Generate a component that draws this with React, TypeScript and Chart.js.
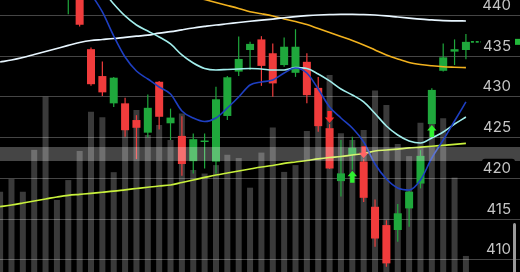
import React, { useEffect, useRef } from "react";
import { Chart, registerables } from "chart.js";

Chart.register(...registerables);

// Daily candles, oldest first. Sessions 0-5 traded above the visible price window.
const opens: (number | null)[] = [
  null, null, null, null, null, null,
  442.6, 443.8, 435.8, 432.5, 429.15, 429.15, 427.1, 425.55, 431.8, 426.7,
  425.15, 422.05, 424.4, 422.0, 427.6, 433.05, 435.7, 437.0, 435.3, 433.85,
  432.9, 434.25, 431.05, 426.1, 419.6, 422.8, 422.0, 416.45, 414.2, 413.6,
  416.25, 419.3, 426.6, 433.15, 435.5, 435.7,
];
const highs: (number | null)[] = [
  null, null, null, null, null, null,
  444.0, 444.3, 436.0, 434.3, 432.4, 429.85, 427.7, 430.25, 431.9, 428.5,
  427.55, 425.45, 425.45, 431.2, 432.5, 437.35, 436.7, 437.4, 436.5, 437.25,
  438.25, 435.3, 432.4, 426.6, 424.65, 425.05, 422.3, 417.35, 414.8, 416.8,
  418.4, 423.4, 431.0, 436.5, 437.0, 437.65,
];
const lows: (number | null)[] = [
  null, null, null, null, null, null,
  440.1, 438.6, 431.3, 430.05, 428.7, 425.05, 422.3, 424.95, 425.95, 424.65,
  420.25, 420.55, 421.15, 420.55, 427.1, 432.5, 433.25, 431.3, 429.95, 433.65,
  432.4, 429.15, 425.65, 421.1, 417.7, 421.0, 417.05, 411.55, 409.1, 412.15,
  414.0, 418.7, 426.6, 433.05, 433.85, 434.55,
];
const closes: (number | null)[] = [
  null, null, null, null, null, null,
  443.4, 438.8, 431.5, 430.5, 432.3, 425.85, 426.15, 428.6, 427.5, 427.4,
  421.7, 424.75, 424.5, 429.65, 432.35, 434.6, 436.45, 433.75, 431.6, 436.1,
  436.1, 430.15, 426.35, 421.15, 420.55, 423.7, 417.55, 412.55, 409.5, 415.65,
  418.3, 422.7, 430.8, 434.8, 435.8, 436.7,
];
// Volume in millions of shares
const volumes = [
  29.5, 34.2, 29.5, 44.9, 64.4, 26.5, 33.8, 44.5, 58.9, 56.9,
  36.7, 52.9, 59.6, 50.4, 54.0, 48.5, 58.3, 37.5, 36.2, 39.3,
  43.1, 41.9, 31.0, 43.9, 53.1, 36.8, 39.3, 51.8, 54.0, 72.4,
  51.0, 48.5, 52.2, 66.7, 61.4, 47.1, 42.6, 54.9, 57.7, 56.5,
  34.7, 5.9,
];

// Moving averages
const maFast: (number | null)[] = [
  null, null, null, null, null, null, null, null,
  442.6, 440.37, 437.42, 434.84, 433.12, 432.14, 431.16, 430.3, 428.21, 427.35,
  426.92, 427.35, 428.58, 429.93, 431.4, 431.77, 432.02, 432.88, 433.49, 432.88,
  430.91, 428.7, 427.35, 426.12, 424.4, 421.7, 419.86, 418.76, 418.51, 419.74,
  422.44, 424.65, 426.98, 429.32,
];
const maShort: (number | null)[] = [
  null, null, null, null, null, null, null, null, null,
  443.07, 441.35, 439.88, 438.77, 438.03, 437.3, 436.44, 435.09, 434.1, 433.43,
  433.25, 433.31, 433.37, 433.43, 433.37, 433.25, 433.25, 433.53, 433.43, 432.75,
  431.9, 430.91, 430.18, 429.32, 427.9, 426.37, 425.26, 424.53, 424.28, 424.9,
  425.63, 426.61, 427.47,
];
const maMid: (number | null)[] = [
  434.23, 434.47, 434.78, 435.15, 435.52, 435.89, 436.26, 436.62, 436.87, 436.99,
  437.11, 437.26, 437.4, 437.52, 437.77, 437.95, 438.18, 438.4, 438.59, 438.77,
  438.92, 439.08, 439.23, 439.36, 439.5, 439.66, 439.8, 439.91, 440.0, 440.06,
  440.09, 440.09, 440.06, 440.0, 439.9, 439.75, 439.61, 439.48, 439.39, 439.31,
  439.28, 439.26,
];
const maLong: (number | null)[] = [
  null, null, null, null, null, null, null, null, null, null,
  null, null, null, null, null, null,
  442.58, 442.27, 441.9, 441.53, 441.17, 440.8, 440.39, 440.15, 439.88, 439.51,
  439.2, 438.83, 438.34, 437.85, 437.36, 436.87, 436.32, 435.7, 435.09, 434.6,
  434.17, 433.92, 433.76, 433.64, 433.58, 433.53,
];
const maTrend: (number | null)[] = [
  416.46, 416.67, 416.91, 417.16, 417.4, 417.65, 417.86, 417.98, 418.1, 418.23,
  418.36, 418.53, 418.69, 418.85, 419.0, 419.12, 419.43, 419.74, 420.05, 420.35,
  420.6, 420.84, 421.09, 421.33, 421.52, 421.77, 421.95, 422.13, 422.34, 422.5,
  422.62, 422.81, 422.99, 423.3, 423.42, 423.54, 423.67, 423.77, 423.88, 424.0,
  424.12, 424.24,
];

const priceTicks = [410, 415, 420, 425, 430, 435, 440];
const buySignals = [31, 38];
const sellSignals = [29, 32];
// Highlighted price zone
const zoneLow = 422.07;
const zoneHigh = 423.79;

const PRICE_MIN = 408.44;
const PRICE_MAX = 441.84;
const X_MIN = -0.01;
const X_MAX = 45.76;
const VOLUME_MAX = 100;

const UP = "#1fa83c";
const DOWN = "#f03c3c";

function drawUpArrow(ctx: CanvasRenderingContext2D, cx: number, top: number, color: string) {
  ctx.fillStyle = color;
  ctx.beginPath();
  ctx.moveTo(cx, top);
  ctx.lineTo(cx + 4.7, top + 5.5);
  ctx.lineTo(cx + 2.2, top + 5.5);
  ctx.lineTo(cx + 2.2, top + 12);
  ctx.lineTo(cx - 2.2, top + 12);
  ctx.lineTo(cx - 2.2, top + 5.5);
  ctx.lineTo(cx - 4.7, top + 5.5);
  ctx.closePath();
  ctx.fill();
}

function drawDownArrow(ctx: CanvasRenderingContext2D, cx: number, bottom: number, color: string) {
  ctx.fillStyle = color;
  ctx.beginPath();
  ctx.moveTo(cx, bottom);
  ctx.lineTo(cx + 4.7, bottom - 5.5);
  ctx.lineTo(cx + 2.2, bottom - 5.5);
  ctx.lineTo(cx + 2.2, bottom - 12);
  ctx.lineTo(cx - 2.2, bottom - 12);
  ctx.lineTo(cx - 2.2, bottom - 5.5);
  ctx.lineTo(cx - 4.7, bottom - 5.5);
  ctx.closePath();
  ctx.fill();
}

export default function App() {
  const canvasRef = useRef<HTMLCanvasElement>(null);

  useEffect(() => {
    const canvas = canvasRef.current;
    if (!canvas) return;

    const sessions = closes.map((_, i) => i);
    const traded = sessions.filter((i) => opens[i] != null);
    const colorOf = (i: number) => ((closes[i] as number) >= (opens[i] as number) ? UP : DOWN);
    const series = (values: (number | null)[]) =>
      values.map((v, i) => ({ x: i, y: v })).filter((p) => p.y != null);

    // Grid lines sit above the volume histogram but under the candles.
    const gridLayer = {
      id: "gridLayer",
      afterDatasetDraw(chart: any, args: any) {
        if (args.index !== 0) return;
        const { ctx, chartArea } = chart;
        const y = chart.scales.y;
        ctx.save();
        ctx.strokeStyle = "rgba(255,255,255,0.27)";
        ctx.lineWidth = 1;
        priceTicks.forEach((t) => {
          const py = Math.round(y.getPixelForValue(t)) + 0.5;
          ctx.beginPath();
          ctx.moveTo(chartArea.left, py);
          ctx.lineTo(chartArea.right, py);
          ctx.stroke();
        });
        ctx.restore();
      },
    };

    const overlay = {
      id: "overlay",
      afterDatasetsDraw(chart: any) {
        const { ctx, chartArea } = chart;
        const x = chart.scales.x;
        const y = chart.scales.y;
        ctx.save();

        // Trade signals
        buySignals.forEach((i) => {
          drawUpArrow(ctx, x.getPixelForValue(i), y.getPixelForValue(lows[i] as number) + 1, "#30f030");
        });
        sellSignals.forEach((i) => {
          drawDownArrow(ctx, x.getPixelForValue(i), y.getPixelForValue(highs[i] as number) - 1, "#ff2c2c");
        });

        // Highlighted zone
        const zTop = y.getPixelForValue(zoneHigh);
        const zBottom = y.getPixelForValue(zoneLow);
        ctx.fillStyle = "rgba(255,255,255,0.27)";
        ctx.fillRect(chartArea.left, zTop, chartArea.right - chartArea.left, zBottom - zTop);

        // Last price line and marker
        const last = closes.length - 1;
        const lastY = y.getPixelForValue(closes[last] as number);
        ctx.strokeStyle = UP;
        ctx.lineWidth = 1.6;
        ctx.setLineDash([3, 1.8]);
        ctx.beginPath();
        ctx.moveTo(x.getPixelForValue(last) + 5, lastY);
        ctx.lineTo(481, lastY);
        ctx.stroke();
        ctx.setLineDash([]);
        ctx.fillStyle = "#22b83a";
        ctx.fillRect(515, lastY - 3, 10, 6);

        // Price labels on the right edge
        ctx.font = "15px Inter, 'Noto Sans', sans-serif";
        ctx.textAlign = "right";
        ctx.textBaseline = "alphabetic";
        priceTicks.forEach((t) => {
          const gy = y.getPixelForValue(t);
          const base = gy - 5;
          ctx.fillStyle = "#000";
          ctx.beginPath();
          ctx.roundRect(482, base - 14, 33, 17, 3);
          ctx.fill();
          ctx.fillStyle = "#c4c4c4";
          ctx.fillText(String(t), 511, base);
        });

        // Scroll indicator
        ctx.fillStyle = "#9a9a9a";
        ctx.beginPath();
        ctx.roundRect(513, 223, 3, 52, 1.5);
        ctx.fill();

        ctx.restore();
      },
    };

    const chart = new Chart(canvas, {
      type: "bar",
      data: {
        datasets: [
          {
            type: "bar",
            yAxisID: "yVol",
            data: volumes.map((v, i) => ({ x: i, y: v })),
            backgroundColor: "#3a3a3a",
            maxBarThickness: 6,
            grouped: false,
            order: 10,
          } as any,
          {
            type: "bar",
            yAxisID: "y",
            data: traded.map((i) => ({ x: i, y: [lows[i], highs[i]] })),
            backgroundColor: traded.map(colorOf),
            maxBarThickness: 1.2,
            grouped: false,
            order: 9,
          } as any,
          {
            type: "bar",
            yAxisID: "y",
            data: traded.map((i) => ({ x: i, y: [opens[i], closes[i]] })),
            backgroundColor: traded.map(colorOf),
            maxBarThickness: 8,
            minBarLength: 1.5,
            grouped: false,
            order: 8,
          } as any,
          {
            type: "line",
            yAxisID: "y",
            data: series(maTrend),
            borderColor: "#c8f03c",
            borderWidth: 1.7,
            pointRadius: 0,
            cubicInterpolationMode: "monotone",
            order: 5,
          } as any,
          {
            type: "line",
            yAxisID: "y",
            data: series(maLong),
            borderColor: "#f2b21e",
            borderWidth: 1.6,
            pointRadius: 0,
            cubicInterpolationMode: "monotone",
            order: 4,
          } as any,
          {
            type: "line",
            yAxisID: "y",
            data: series(maMid),
            borderColor: "#e8f6ff",
            borderWidth: 1.7,
            pointRadius: 0,
            cubicInterpolationMode: "monotone",
            order: 3,
          } as any,
          {
            type: "line",
            yAxisID: "y",
            data: series(maShort),
            borderColor: "#a2eeec",
            borderWidth: 1.6,
            pointRadius: 0,
            cubicInterpolationMode: "monotone",
            order: 2,
          } as any,
          {
            type: "line",
            yAxisID: "y",
            data: series(maFast),
            borderColor: "#1e3fc2",
            borderWidth: 1.6,
            pointRadius: 0,
            cubicInterpolationMode: "monotone",
            order: 1,
          } as any,
        ],
      },
      options: {
        responsive: false,
        animation: false,
        events: [],
        layout: { padding: 0 },
        plugins: {
          legend: { display: false },
          tooltip: { enabled: false },
          title: { display: false },
        },
        scales: {
          x: { type: "linear", min: X_MIN, max: X_MAX, offset: false, display: false, grid: { offset: false } },
          y: { type: "linear", min: PRICE_MIN, max: PRICE_MAX, display: false },
          yVol: { type: "linear", min: 0, max: VOLUME_MAX, display: false },
        },
      },
      plugins: [gridLayer, overlay],
    });

    return () => chart.destroy();
  }, []);

  return (
    <div style={{ position: "fixed", left: 0, top: 0, width: 520, height: 272, background: "#000" }}>
      <canvas ref={canvasRef} width={520} height={272} style={{ display: "block" }} />
    </div>
  );
}
